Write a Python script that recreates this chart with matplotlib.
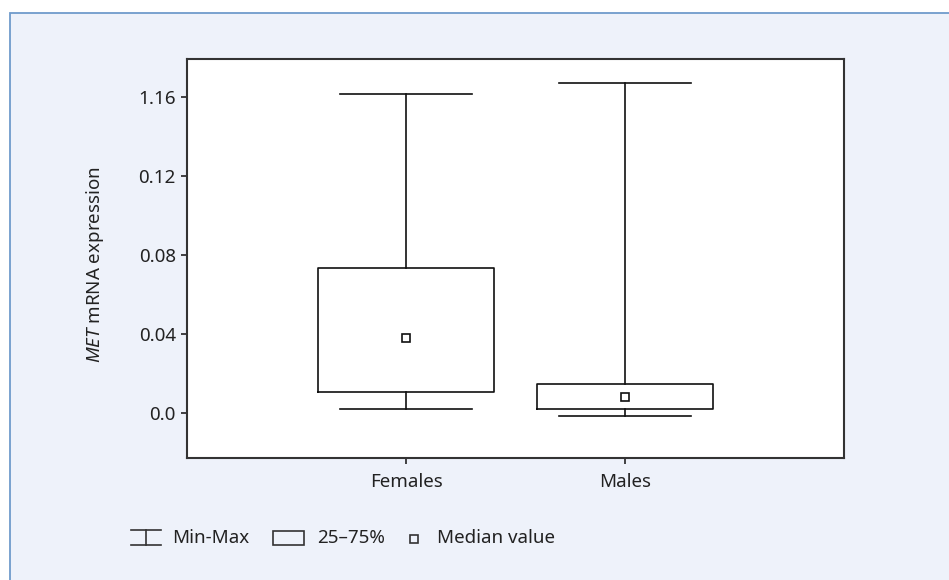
import matplotlib
matplotlib.use("Agg")
import matplotlib.pyplot as plt
from matplotlib.patches import Rectangle
from matplotlib.lines import Line2D

plt.rcParams['font.family'] = ['Noto Sans', 'DejaVu Sans']
plt.rcParams['mathtext.fontset'] = 'custom'
plt.rcParams['mathtext.rm'] = 'Noto Sans'
plt.rcParams['mathtext.it'] = 'Noto Sans:italic'

# Data
groups = ["Females", "Males"]
minimum = [0.0022, -0.0015]
q25 = [0.0108, 0.0022]
median = [0.0381, 0.0084]
q75 = [0.0734, 0.0148]
maximum = [0.1615, 0.1671]
ytick_values = [0.0, 0.04, 0.08, 0.12, 0.16]
ytick_labels = ["0.0", "0.04", "0.08", "0.12", "1.16"]

W, H = 949, 580
fig = plt.figure(figsize=(W / 100, H / 100), dpi=100)
fig.patch.set_facecolor("white")

# Panel background with blue border on top and left
panel = Rectangle((9.5 / W, -0.01), 1.02, 1 - 12.5 / H + 0.01,
                  transform=fig.transFigure, facecolor="#EEF2FA",
                  edgecolor="#6F9BCB", linewidth=1.3, zorder=0)
fig.add_artist(panel)

ax = fig.add_axes([187 / W, 1 - 458 / H, (844 - 187) / W, (458 - 59) / H])
ax.set_facecolor("white")

positions = [1, 2]
stats = []
for g, lo, a, m, b, hi in zip(groups, minimum, q25, median, q75, maximum):
    stats.append(dict(label=g, whislo=lo, q1=a, med=m, q3=b, whishi=hi, fliers=[]))

lw = 1.2
ax.bxp(stats, positions=positions, widths=0.8, capwidths=0.6,
       showfliers=False, patch_artist=False,
       boxprops=dict(color="#111111", linewidth=lw),
       whiskerprops=dict(color="#111111", linewidth=lw),
       capprops=dict(color="#111111", linewidth=lw),
       medianprops=dict(linestyle="none"))
ax.plot(positions, median, linestyle="none", marker="s", markersize=6.3,
        markerfacecolor="white", markeredgecolor="#111111", markeredgewidth=1.2)

ax.set_xlim(0, 3)
ax.set_ylim(-0.0226, 0.1794)
ax.set_xticks(positions)
ax.set_xticklabels(groups)
ax.set_yticks(ytick_values)
ax.set_yticklabels(ytick_labels)
ax.tick_params(axis="both", length=4, width=1.2, color="#222222",
               labelsize=13.5, labelcolor="#222222")
ax.tick_params(axis="x", pad=7)
ax.tick_params(axis="y", pad=4)
for s in ax.spines.values():
    s.set_linewidth(1.5)
    s.set_color("#333333")

ax.set_ylabel(r"$\mathit{MET}$ mRNA expression", fontsize=13.5, color="#222222")
ax.yaxis.set_label_coords(-0.123, 0.485)

# Legend drawn in figure pixel coordinates
def fx(x):
    return x / W

def fy(y):
    return 1 - y / H

lc = "#333333"
fig.add_artist(Line2D([fx(131), fx(161)], [fy(530), fy(530)], transform=fig.transFigure, color=lc, lw=1.2))
fig.add_artist(Line2D([fx(131), fx(161)], [fy(545), fy(545)], transform=fig.transFigure, color=lc, lw=1.2))
fig.add_artist(Line2D([fx(146), fx(146)], [fy(530), fy(545)], transform=fig.transFigure, color=lc, lw=1.2))
fig.text(fx(172), fy(538), "Min-Max", fontsize=13.5, color="#222222", va="center", ha="left")

fig.add_artist(Rectangle((fx(273), fy(544.5)), (304 - 273) / W, (544.5 - 530.5) / H,
                         transform=fig.transFigure, facecolor="none", edgecolor=lc, lw=1.2))
fig.text(fx(317), fy(538), "25\u201375%", fontsize=13.5, color="#222222", va="center", ha="left")

fig.add_artist(Line2D([fx(413.5)], [fy(538.5)], transform=fig.transFigure, linestyle="none",
                      marker="s", markersize=6.3, markerfacecolor="none",
                      markeredgecolor=lc, markeredgewidth=1.2))
fig.text(fx(437), fy(538), "Median value", fontsize=13.5, color="#222222", va="center", ha="left")

fig.savefig("out.png", dpi=100, facecolor=fig.get_facecolor())
